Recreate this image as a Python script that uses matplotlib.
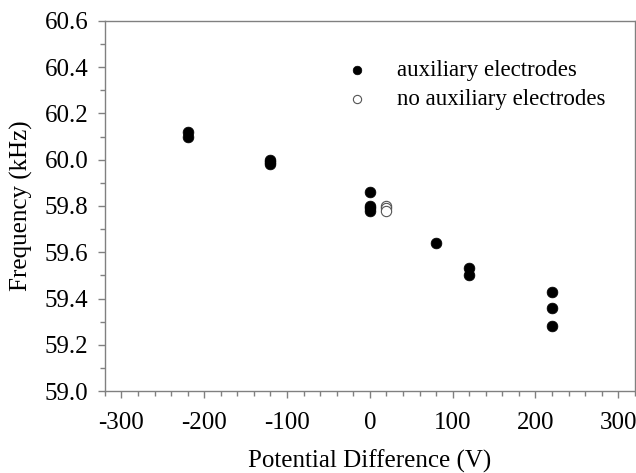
import matplotlib
matplotlib.use("Agg")
import matplotlib.pyplot as plt
from matplotlib.ticker import MultipleLocator, FormatStrFormatter

plt.rcParams['font.family'] = ['Liberation Serif', 'DejaVu Serif']
plt.rcParams['axes.unicode_minus'] = False

aux_x = [-220, -220, -120, -120, -120, 0, 0, 0, 0, 80, 120, 120, 220, 220, 220]
aux_y = [60.12, 60.10, 60.00, 59.99, 59.98, 59.86, 59.80, 59.79, 59.78, 59.64, 59.53, 59.50, 59.43, 59.36, 59.28]
noaux_x = [20, 20, 20]
noaux_y = [59.80, 59.79, 59.78]

fig = plt.figure(figsize=(6.36, 4.73), dpi=100)
ax = fig.add_axes([0.165, 0.173, 0.833, 0.783])

ax.scatter(aux_x, aux_y, s=60, color='black', edgecolors='black', linewidths=0.5,
           label='auxiliary electrodes', zorder=3)
ax.scatter(noaux_x, noaux_y, s=55, facecolors='white', edgecolors='#555555', linewidths=0.8,
           label='no auxiliary electrodes', zorder=3)

ax.set_xlim(-320, 320)
ax.set_ylim(59.0, 60.6)
ax.xaxis.set_major_locator(MultipleLocator(100))
ax.xaxis.set_minor_locator(MultipleLocator(20))
ax.yaxis.set_major_locator(MultipleLocator(0.2))
ax.yaxis.set_minor_locator(MultipleLocator(0.1))
ax.yaxis.set_major_formatter(FormatStrFormatter('%.1f'))

for sp in ax.spines.values():
    sp.set_color('#808080')
    sp.set_linewidth(1.0)
ax.tick_params(which='both', direction='out', colors='#808080', labelcolor='black', labelsize=18)
ax.tick_params(which='major', length=5, width=1)
ax.tick_params(which='minor', length=3.5, width=1)
ax.tick_params(axis='x', pad=10)
ax.tick_params(axis='y', pad=7)

ax.set_xlabel('Potential Difference (V)', fontsize=18, labelpad=11)
ax.set_ylabel('Frequency (kHz)', fontsize=18, labelpad=8)

leg = ax.legend(loc='upper left', bbox_to_anchor=(0.432, 0.895), frameon=False,
                fontsize=16.5, handletextpad=0.75, labelspacing=0.37,
                markerscale=0.8, borderaxespad=0, borderpad=0)

fig.savefig('out.png', dpi=100)
